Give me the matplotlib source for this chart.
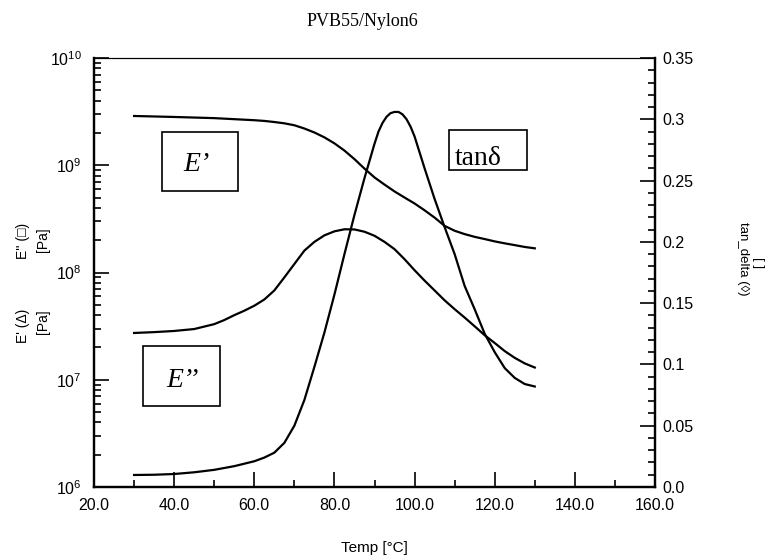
import numpy as np
import matplotlib.pyplot as plt
from matplotlib.patches import Rectangle
from matplotlib.ticker import FixedLocator, MultipleLocator, FormatStrFormatter, LogLocator

plt.rcParams['font.family'] = ['Liberation Sans', 'DejaVu Sans']
plt.rcParams['mathtext.default'] = 'regular'

## storage modulus E' (Pa)
temp_e1 = [30, 40, 50, 60, 62.5, 65, 67.5, 70, 72.5, 75, 77.5, 80, 82.5, 85, 87.5, 90,
           92.5, 95, 97.5, 100, 102.5, 105, 107.5, 110, 112.5, 115, 117.5, 120, 122.5,
           125, 127.5, 130]
e_storage = [2.88e9, 2.82e9, 2.75e9, 2.63e9, 2.59e9, 2.53e9, 2.46e9, 2.36e9, 2.2e9,
             2.02e9, 1.82e9, 1.6e9, 1.37e9, 1.14e9, 9.3e8, 7.7e8, 6.6e8, 5.7e8, 5.0e8,
             4.4e8, 3.8e8, 3.25e8, 2.72e8, 2.45e8, 2.28e8, 2.15e8, 2.05e8, 1.95e8,
             1.87e8, 1.8e8, 1.73e8, 1.68e8]

## loss modulus E'' (Pa)
temp_e2 = [30, 35, 40, 45, 50, 52.5, 55, 57.5, 60, 62.5, 65, 67.5, 70, 72.5, 75, 77.5,
           80, 82.5, 85, 87.5, 90, 92.5, 95, 97.5, 100, 102.5, 105, 107.5, 110, 112.5,
           115, 117.5, 120, 122.5, 125, 127.5, 130]
e_loss = [2.73e7, 2.78e7, 2.85e7, 2.97e7, 3.3e7, 3.6e7, 4.0e7, 4.4e7, 4.9e7, 5.6e7,
          6.8e7, 9.0e7, 1.2e8, 1.6e8, 1.93e8, 2.22e8, 2.42e8, 2.53e8, 2.52e8, 2.4e8,
          2.2e8, 1.93e8, 1.65e8, 1.33e8, 1.05e8, 8.4e7, 6.8e7, 5.5e7, 4.55e7, 3.8e7,
          3.15e7, 2.6e7, 2.2e7, 1.85e7, 1.6e7, 1.42e7, 1.3e7]

## tan delta
temp_td = [30, 35, 40, 45, 50, 55, 60, 62.5, 65, 67.5, 70, 72.5, 75, 77.5, 80, 82.5, 85,
           87.5, 90, 91, 92, 93, 94, 95, 96, 97, 98, 99, 100, 102.5, 105, 107.5, 110,
           112.5, 115, 117.5, 120, 122.5, 125, 127.5, 130]
tan_delta = [0.0098, 0.0100, 0.0106, 0.012, 0.014, 0.017, 0.021, 0.024, 0.028, 0.036,
             0.050, 0.071, 0.098, 0.126, 0.157, 0.19, 0.222, 0.252, 0.280, 0.290, 0.297,
             0.302, 0.305, 0.306, 0.306, 0.304, 0.300, 0.294, 0.286, 0.260, 0.235, 0.212,
             0.19, 0.164, 0.145, 0.125, 0.11, 0.097, 0.089, 0.084, 0.082]

x_ticks = [20, 40, 60, 80, 100, 120, 140, 160]
td_ticks = [0.0, 0.05, 0.1, 0.15, 0.2, 0.25, 0.3, 0.35]
td_labels = ['0.0', '0.05', '0.1', '0.15', '0.2', '0.25', '0.3', '0.35']

W, H = 765, 560
fig = plt.figure(figsize=(W / 100, H / 100), dpi=100)
ax = fig.add_axes([94 / W, 1 - 487 / H, 561 / W, 429 / H])
ax2 = ax.twinx()

ax.plot(temp_e1, e_storage, color='black', lw=1.6)
ax.plot(temp_e2, e_loss, color='black', lw=1.6)
ax2.plot(temp_td, tan_delta, color='black', lw=1.6)

ax.set_yscale('log')
ax.set_ylim(1e6, 1e10)
ax.set_xlim(20, 160)
ax2.set_ylim(0, 0.35)

ax.xaxis.set_major_locator(FixedLocator(x_ticks))
ax.xaxis.set_minor_locator(MultipleLocator(10))
ax.xaxis.set_major_formatter(FormatStrFormatter('%.1f'))
ax.yaxis.set_major_locator(LogLocator(base=10, numticks=10))
ax.yaxis.set_minor_locator(LogLocator(base=10, subs=np.arange(2, 10), numticks=20))
ax2.yaxis.set_major_locator(FixedLocator(td_ticks))
ax2.set_yticklabels(td_labels)
ax2.yaxis.set_minor_locator(MultipleLocator(0.01))

ax.tick_params(which='both', direction='in', top=False, right=False, labelsize=11.5)
ax.tick_params(axis='x', which='major', length=11, width=1.2, pad=8)
ax.tick_params(axis='x', which='minor', length=5, width=1.2)
ax.tick_params(axis='y', which='major', length=11, width=1.2, pad=9)
ax.tick_params(axis='y', which='minor', length=5, width=1.2)
ax2.tick_params(which='both', direction='in', labelsize=11.5)
ax2.tick_params(which='major', length=11, width=1.2, pad=5)
ax2.tick_params(which='minor', length=5, width=1.2)

for a in (ax, ax2):
    for s in ['left', 'bottom', 'right']:
        a.spines[s].set_linewidth(1.6)
    a.spines['top'].set_linewidth(0.8)

## boxes around the curve names
boxes = [(0.121, 0.690, 0.136, 0.138), (0.087, 0.189, 0.137, 0.140), (0.633, 0.739, 0.139, 0.093)]
for bx, by, bw, bh in boxes:
    ax.add_patch(Rectangle((bx, by), bw, bh, transform=ax.transAxes, fill=False,
                           ec='black', lw=1.2, zorder=5))
ax.text(0.183, 0.751, 'E\u2019', transform=ax.transAxes, ha='center', va='center',
        family='Liberation Serif', style='italic', size=20)
ax.text(0.157, 0.249, 'E\u2019\u2019', transform=ax.transAxes, ha='center', va='center',
        family='Liberation Serif', style='italic', size=20)
ax.text(0.643, 0.751, 'tan\u03b4', transform=ax.transAxes, ha='left', va='baseline',
        family=['Liberation Serif', 'DejaVu Serif'], size=20)

## titles and axis labels
fig.text(362 / W, 1 - 22 / H, 'PVB55/Nylon6', ha='center', va='center',
         family='Liberation Serif', size=13)
fig.text(374 / W, 1 - 548 / H, 'Temp [\u00b0C]', ha='center', va='center', size=11)
fig.text(23 / W, 1 - 241 / H, 'E\'\' (\u25a1)', ha='center', va='center', rotation=90, size=10)
fig.text(43 / W, 1 - 240 / H, '[Pa]', ha='center', va='center', rotation=90, size=10)
fig.text(23 / W, 1 - 326 / H, 'E\' (\u0394)', ha='center', va='center', rotation=90, size=10)
fig.text(43 / W, 1 - 322 / H, '[Pa]', ha='center', va='center', rotation=90, size=10)
fig.text(743 / W, 1 - 259 / H, 'tan_delta (\u25ca)', ha='center', va='center',
         rotation=-90, size=9.5)
fig.text(758 / W, 1 - 263 / H, '[ ]', ha='center', va='center', rotation=-90, size=9.5)

fig.savefig('out.png', dpi=100)
